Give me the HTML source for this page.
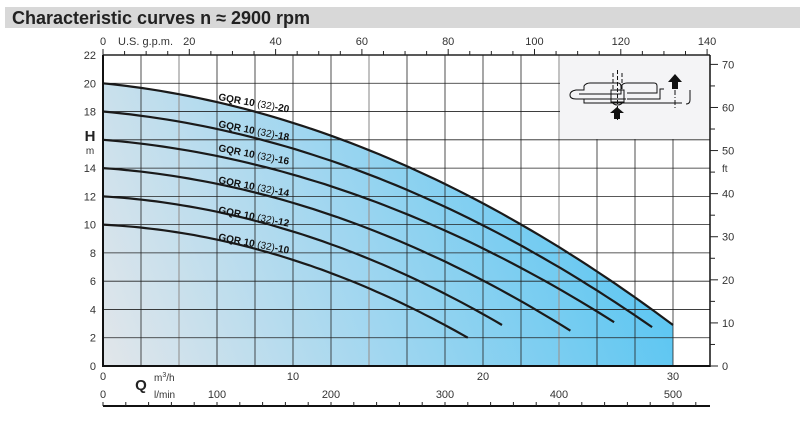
<!DOCTYPE html><html><head><style>body{margin:0;background:#fff;width:800px;height:417px;overflow:hidden}svg{font-family:"Liberation Sans",sans-serif}</style></head><body>
<svg id="s" width="800" height="417" xmlns="http://www.w3.org/2000/svg">
<defs><linearGradient id="g" x1="103" y1="366" x2="673" y2="150" gradientUnits="userSpaceOnUse"><stop offset="0" stop-color="#e2e6ea"/><stop offset="0.45" stop-color="#9fd6f0"/><stop offset="1" stop-color="#4fc3f2"/></linearGradient></defs>
<rect x="5" y="7" width="795" height="21" fill="#d8d8d8"/>
<text x="12" y="24" font-size="18" font-weight="bold" fill="#222">Characteristic curves n ≈ 2900 rpm</text>
<g id="plot"></g>
</svg>
<script>
const X=q=>103+19*q, Y=h=>366-h*311/22;
let s='';
const curves=[[20,30,2.9],[18,28.9,2.75],[16,26.9,3.1],[14,24.6,2.5],[12,21,2.9],[10,19.2,2]];
function pts(c){const [h0,qe,he]=c;const b=0.135*h0/20;const cc=(h0-b*qe-he)/(qe*qe);let p=[];for(let i=0;i<=60;i++){const q=qe*i/60;p.push(X(q).toFixed(1)+','+Y(h0-b*q-cc*q*q).toFixed(1));}return p;}
const p20=pts(curves[0]);
s+=`<polygon points="${X(0)},${Y(0)} ${p20.join(' ')} ${X(30)},${Y(0)}" fill="url(#g)"/>`;
for(let i=1;i<=16;i++){const x=103+38*i;if(x>709)break;const grey=(i==2||i==7||i==12);s+=`<line x1="${x}" y1="55" x2="${x}" y2="366" stroke="${grey?'#999':'#222'}" stroke-width="${grey?1.2:0.8}"/>`;}
for(let h=2;h<=20;h+=2){s+=`<line x1="103" y1="${Y(h)}" x2="710" y2="${Y(h)}" stroke="#222" stroke-width="0.8"/>`;}
s+=`<rect x="560" y="55" width="150" height="84" fill="#f4f4f6"/>`;
curves.forEach(c=>{s+=`<polyline points="${pts(c).join(' ')}" fill="none" stroke="#1a1a1a" stroke-width="2.2"/>`;});
s+=`<line x1="103" y1="55" x2="710" y2="55" stroke="#222" stroke-width="1.5"/>`;
s+=`<line x1="103" y1="55" x2="103" y2="367" stroke="#111" stroke-width="2"/>`;
s+=`<line x1="102" y1="366" x2="710" y2="366" stroke="#111" stroke-width="2"/>`;
s+=`<line x1="710" y1="55" x2="710" y2="367" stroke="#111" stroke-width="1.5"/>`;
for(let h=0;h<=22;h+=2){if(h==16)continue;s+=`<text x="96" y="${Y(h)+4}" font-size="11" text-anchor="end" fill="#333">${h}</text>`;}
s+=`<text x="90" y="141" font-size="15" font-weight="bold" text-anchor="middle" fill="#222">H</text><text x="90" y="154" font-size="10" text-anchor="middle" fill="#333">m</text>`;
for(let f=0;f<=70;f+=5){const y=366-f*0.3048*311/22;s+=`<line x1="710" y1="${y}" x2="${f%10?715:718}" y2="${y}" stroke="#222"/>`;if(f%10==0)s+=`<text x="722" y="${y+4}" font-size="11" fill="#333">${f}</text>`;}
s+=`<text x="722" y="172" font-size="10" fill="#333">ft</text>`;
for(let g=0;g<=140;g+=5){const x=103+g*0.2271*19;s+=`<line x1="${x}" y1="55" x2="${x}" y2="${g%20?51:49}" stroke="#222"/>`;if(g%20==0)s+=`<text x="${x}" y="45" font-size="11" text-anchor="middle" fill="#333">${g}</text>`;}
s+=`<text x="118" y="45" font-size="11" fill="#333">U.S. g.p.m.</text>`;
[0,10,20,30].forEach(q=>s+=`<text x="${X(q)}" y="380" font-size="11" text-anchor="middle" fill="#333">${q}</text>`);
s+=`<text x="154" y="381" font-size="10" fill="#333">m<tspan font-size="7" dy="-4">3</tspan><tspan dy="4">/h</tspan></text><text x="154" y="398" font-size="10" fill="#333">l/min</text>`;
s+=`<text x="141" y="390" font-size="15" font-weight="bold" text-anchor="middle" fill="#222">Q</text>`;
s+=`<line x1="103" y1="406" x2="710" y2="406" stroke="#111" stroke-width="2"/>`;
for(let l=0;l<=520;l+=20){const x=103+l*1.14;if(x>710)break;s+=`<line x1="${x}" y1="406" x2="${x}" y2="402" stroke="#222"/>`;if(l%100==0)s+=`<text x="${x}" y="398" font-size="11" text-anchor="middle" fill="#333">${l}</text>`;}
[[20,100,10],[18,127,11],[16,151,11],[14,183,11],[12,213,11],[10,240,11]].forEach(([n,y,a])=>{s+=`<text transform="translate(218,${y}) rotate(${a})" font-size="10" font-weight="bold" fill="#111">GQR 10 <tspan font-weight="normal">(32)</tspan>-${n}</text>`;});
s+=`<g stroke="#111" fill="none" stroke-width="1">
<path d="M570 95 q0-4 6-5 h8 v-4 q2-3 6-3 h28 q3 0 3 4 v7 h-42 M584 99 h42 M570 95 q0 4 6 4 h8 v4 h98"/>
<path d="M621 86 q2-3 6-3 h27 q3 0 3 3 v7 h-30 M627 99 h30 M654 99 h6 v-10 h4 M690 90 v10 q0 4 -4 4"/>
<rect x="611" y="90" width="13" height="12"/><path d="M613 73 v17 M622 73 v17 M617.5 70 v50" stroke-dasharray="4 2"/>
<path d="M612 102 a6 5 0 0 0 11 0"/><path d="M675 80 v28" stroke-dasharray="5 2 1 2"/></g>
<path d="M668 82 l7-8 7 8 h-4 v7 h-6 v-7z M617 107 l7 6 h-4 v6 h-6 v-6 h-4z" fill="#111"/>`;
document.getElementById('plot').innerHTML=s;
</script></body></html>
